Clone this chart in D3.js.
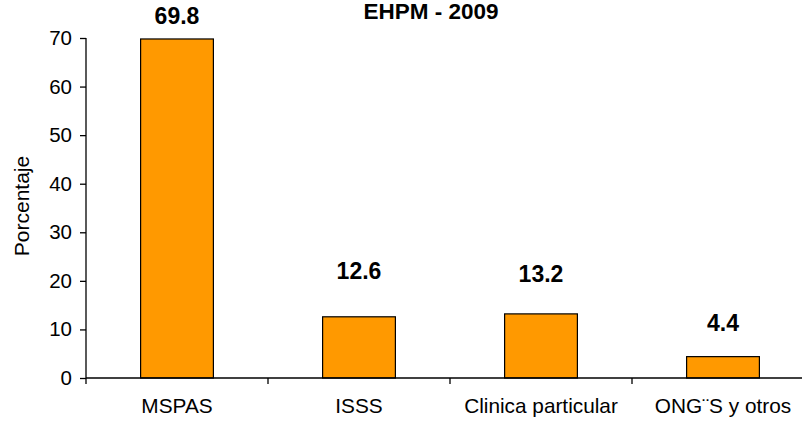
<!DOCTYPE html>
<html><head><meta charset="utf-8">
<script src="https://cdn.jsdelivr.net/npm/d3@7"></script>
<style>
html,body{margin:0;padding:0;background:#fff;}
svg{display:block;}
text{font-family:Arial,"Liberation Sans",sans-serif;fill:#000;}
</style></head>
<body><svg id="c" width="802" height="421"></svg>
<script>
const categories = ["MSPAS", "ISSS", "Clinica particular", "ONG¨S y otros"];
const values = [69.8, 12.6, 13.2, 4.4];
const valueLabels = ["69.8", "12.6", "13.2", "4.4"];
const labelLevels = [72.9, 20.4, 19.8, 9.7]; // label baseline heights in data units
const yTicks = [0, 10, 20, 30, 40, 50, 60, 70];
const title = "EHPM - 2009";
const yTitle = "Porcentaje";

const svg = d3.select("#c");
const x = d3.scaleBand().domain(categories).range([86, 814]).paddingInner(0.6).paddingOuter(0.3);
const y = d3.scaleLinear().domain([0, 70]).range([378, 38]);
const step = x.step(), bw = x.bandwidth();

// bars
svg.selectAll("rect.bar").data(values).enter().append("rect")
  .attr("x", (d,i) => x(categories[i]))
  .attr("y", d => y(d))
  .attr("width", bw)
  .attr("height", d => y(0) - y(d))
  .attr("fill", "#FF9900")
  .attr("stroke", "#000")
  .attr("stroke-width", 1.2);

// y axis
const yAxis = d3.axisLeft(y).tickValues(yTicks).tickSize(6).tickPadding(8).tickFormat(d3.format("d"));
const ga = svg.append("g").attr("transform", "translate(86,0)").call(yAxis);
ga.select(".domain").attr("d", `M0,${y(70)}V${y(0)}`).attr("stroke", "#000").attr("stroke-width", 1.3);
ga.selectAll(".tick line").attr("stroke", "#000").attr("stroke-width", 1.3);
ga.selectAll(".tick text").attr("font-size", 20.5).attr("font-family", "Arial, 'Liberation Sans', sans-serif").attr("fill", "#000");

// x axis line and ticks at category boundaries
svg.append("line").attr("x1", 86).attr("x2", 814).attr("y1", y(0)).attr("y2", y(0)).attr("stroke", "#000").attr("stroke-width", 1.3);
const bounds = categories.map(c => x(c) - (step - bw) / 2).concat([x(categories[categories.length-1]) + bw + (step - bw)/2]);
svg.selectAll("line.xt").data(bounds).enter().append("line")
  .attr("x1", d => d).attr("x2", d => d)
  .attr("y1", y(0)).attr("y2", y(0) + 6)
  .attr("stroke", "#000").attr("stroke-width", 1.3);

// category labels
svg.selectAll("text.cat").data(categories).enter().append("text")
  .attr("x", d => x(d) + bw/2).attr("y", 413)
  .attr("text-anchor", "middle").attr("font-size", 20.8)
  .text(d => d);

// value labels
svg.selectAll("text.val").data(valueLabels).enter().append("text")
  .attr("x", (d,i) => x(categories[i]) + bw/2)
  .attr("y", (d,i) => y(labelLevels[i]))
  .attr("text-anchor", "middle").attr("font-size", 23).attr("font-weight", "bold")
  .text(d => d);

// title
svg.append("text").attr("x", 431).attr("y", 19).attr("text-anchor", "middle")
  .attr("font-size", 22.5).attr("font-weight", "bold").text(title);

// y title
svg.append("text").attr("transform", "translate(29,206) rotate(-90)")
  .attr("text-anchor", "middle").attr("font-size", 21).text(yTitle);
</script></body></html>
